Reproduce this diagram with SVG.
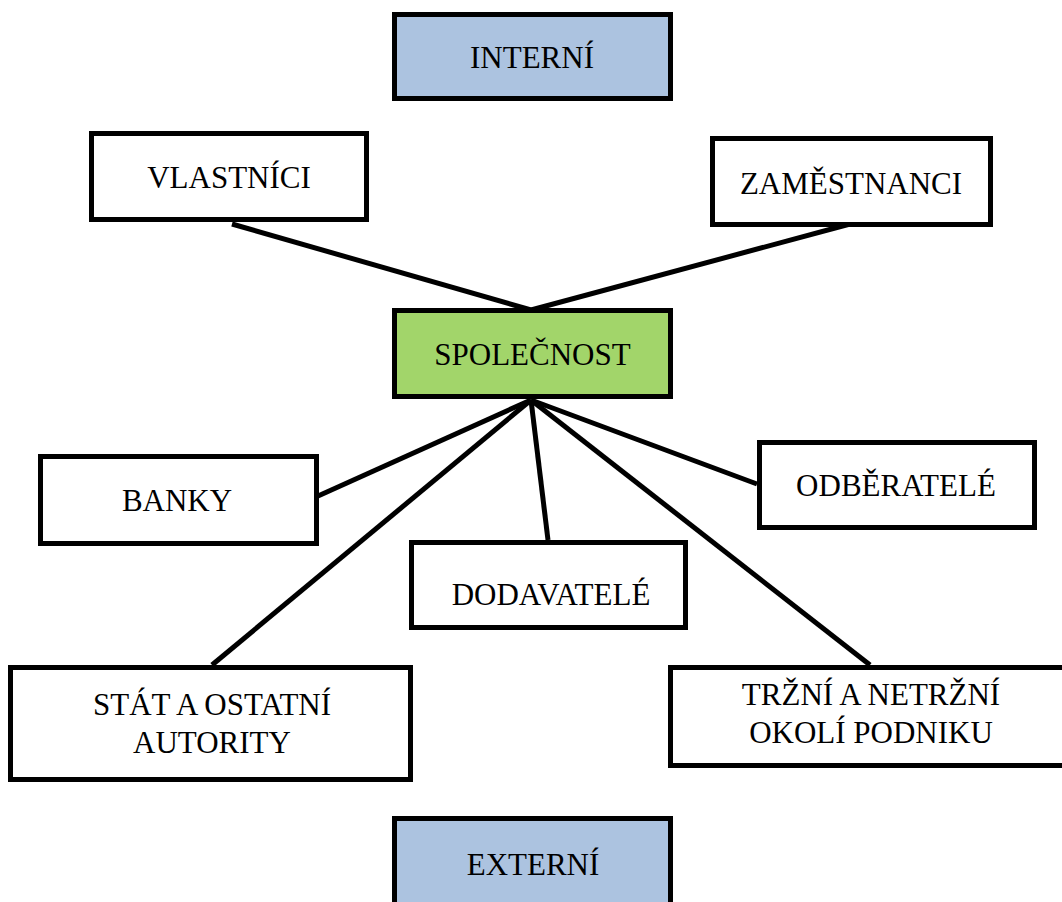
<svg xmlns="http://www.w3.org/2000/svg" width="1062" height="902" viewBox="0 0 1062 902">
  <style>
    .box { fill: #ffffff; stroke: #000000; stroke-width: 5; }
    .blue { fill: #acc3e0; }
    .green { fill: #a2d56a; }
    .lbl { font-family: "Liberation Serif", "Times New Roman", serif; font-size: 31px; fill: #000000; text-anchor: middle; }
    .edge { stroke: #000000; stroke-width: 5; fill: none; }
  </style>
  <rect width="1062" height="902" fill="#ffffff"/>

  <!-- connectors -->
  <g id="connectors">
    <line class="edge" x1="232" y1="224" x2="531" y2="310"/>
    <line class="edge" x1="850" y1="224" x2="531" y2="310"/>
    <line class="edge" x1="318" y1="496" x2="531" y2="400"/>
    <line class="edge" x1="212" y1="665" x2="531" y2="400"/>
    <line class="edge" x1="548" y1="540" x2="531" y2="400"/>
    <line class="edge" x1="757" y1="484" x2="531" y2="400"/>
    <line class="edge" x1="870" y1="665" x2="531" y2="400"/>
  </g>

  <g id="interni">
    <rect class="box blue" x="394.5" y="14.5" width="276" height="84"/>
    <text class="lbl" x="532" y="68">INTERNÍ</text>
  </g>

  <g id="vlastnici">
    <rect class="box" x="91.5" y="133.5" width="275" height="86"/>
    <text class="lbl" x="229" y="188">VLASTNÍCI</text>
  </g>

  <g id="zamestnanci">
    <rect class="box" x="712.5" y="138.5" width="278" height="86"/>
    <text class="lbl" x="851" y="194">ZAMĚSTNANCI</text>
  </g>

  <g id="spolecnost">
    <rect class="box green" x="394.5" y="310.5" width="276" height="86"/>
    <text class="lbl" x="532.5" y="365">SPOLEČNOST</text>
  </g>

  <g id="banky">
    <rect class="box" x="40.5" y="456.5" width="276" height="87"/>
    <text class="lbl" x="177" y="511">BANKY</text>
  </g>

  <g id="dodavatele">
    <rect class="box" x="411.5" y="542.5" width="274" height="85"/>
    <text class="lbl" x="551" y="605">DODAVATELÉ</text>
  </g>

  <g id="odberatele">
    <rect class="box" x="759.5" y="442.5" width="275" height="85"/>
    <text class="lbl" x="896" y="496">ODBĚRATELÉ</text>
  </g>

  <g id="stat">
    <rect class="box" x="10.5" y="667.5" width="400" height="112"/>
    <text class="lbl" x="212" y="715">STÁT A OSTATNÍ</text>
    <text class="lbl" x="212" y="753">AUTORITY</text>
  </g>

  <g id="trzni">
    <rect class="box" x="670.5" y="667.5" width="394" height="98"/>
    <text class="lbl" x="871" y="705">TRŽNÍ A NETRŽNÍ</text>
    <text class="lbl" x="871" y="743">OKOLÍ PODNIKU</text>
  </g>

  <g id="externi">
    <rect class="box blue" x="394.5" y="818.5" width="276" height="100"/>
    <text class="lbl" x="533" y="875">EXTERNÍ</text>
  </g>
</svg>
